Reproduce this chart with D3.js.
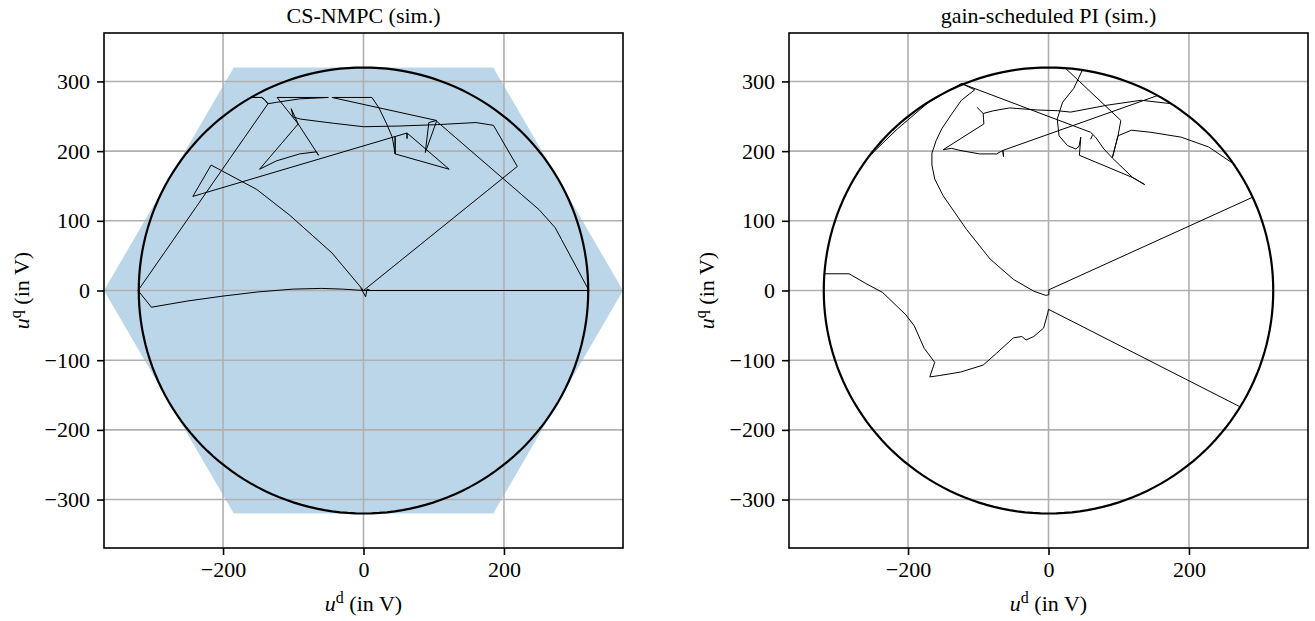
<!DOCTYPE html>
<html>
<head>
<meta charset="utf-8">
<script src="https://cdn.jsdelivr.net/npm/d3@7"></script>
<style>
  body { margin: 0; background: #fff; }
  text { font-family: "Liberation Serif", "DejaVu Serif", serif; fill: #000; }
</style>
</head>
<body>
<script>
// ---- data (u_d, u_q in V) ----
const xTicks = [-200, 0, 200]
const yTicks = [-300, -200, -100, 0, 100, 200, 300]
const voltageRadius = 320          // circle limit
const hexVertex = 369.5            // hexagon vertex = 2/sqrt(3) * radius
const titles = ["CS-NMPC (sim.)", "gain-scheduled PI (sim.)"]

// CS-NMPC trajectory pieces
const nmpcA = [[0,0],[321,0],[273,90],[250,116],[104,243],[88,198],[93,241],[104,244],[-45,277],[12,277],
  [22,262],[33,239],[41,220],[45,196],[45,221],[45,196],[122,174],[62,226],[62,218],[62,226],[-243,135],
  [-217,180],[-152,145],[-105,108],[-45,54],[0,0]]
const nmpcB = [[-50,277],[-91,275],[-124,270],[-136,268],[-141,274],[-145,277],[-160,277],[-145,277],[-141,274],
  [-136,268],[-321,0],[-302,-24],[-250,-15],[-200,-8],[-150,-2],[-100,2],[-60,3],[-30,2],[0,0],[219,178],
  [185,237],[160,241],[105,238],[50,236],[0,235],[-43,240],[-90,246],[-100,249],[-103,261],[-98,250],[-93,239],
  [-148,174],[-124,186],[-91,196],[-67,199],[-64,194],[-93,239],[-123,277],[-50,277]]
const nmpcC = [[-4,4],[3,-9],[5,2],[10,0]]

// gain-scheduled PI trajectory pieces
const piA = [[-320,24],[-284,24],[-260,10],[-236,-3],[-203,-35],[-191,-51],[-177,-83],[-162,-103],[-169,-124],
  [-155,-122],[-125,-117],[-93,-107],[-74,-90],[-50,-68],[-38,-66],[-32,-71],[-21,-66],[-7,-54],[-1,-32],[0,-27],[273,-167]]
const piB = [[291,134],[0.5,1],[0.5,-6],[-4,-7],[-21,-1],[-50,16],[-83,45],[-117,88],[-150,136],[-162,160],
  [-166,180],[-166,197],[-160,215],[-152,232],[-138,253],[-124,273],[-105,288],[-124,297],[60,227],[67,220],
  [79,203],[91,190],[120,162],[137,152]]
const piC = [[-258,190],[-215,232],[-172,269],[-150,282],[-124,297]]
const piD = [[23,320],[103,244],[99,222],[91,191],[99,222],[118,230],[146,227],[189,220],[228,206],[266,180]]
const piE = [[48,316],[36,290],[20,270],[12.5,246],[15,222],[27,208],[39,203],[43.5,207],[46,220],[44,194],[120,162],[137,152]]
const piF = [[-102,263],[-93,254],[-78,258],[-55,262],[-16,259],[12.5,258],[31.5,256],[84,266],[132,273],[175,268]]
const piG = [[-93,254],[-92,239],[-150,202],[-138,204],[-126,201],[-98,196],[-74,196],[-65,201],[-64,192],[-65,201],[156,280]]
const piH = [[62.6,223],[60,217]]

const W = 1315, H = 621
const FS = 22
const svg = d3.select("body").append("svg").attr("width", W).attr("height", H)

function panel(i, left, right, traces, showHex){
  const top = 33, bottom = 548
  const x = d3.scaleLinear().domain([-hexVertex, hexVertex]).range([left, right])
  const y = d3.scaleLinear().domain([-hexVertex, hexVertex]).range([bottom, top])
  const g = svg.append("g")

  g.append("clipPath").attr("id", "clip" + i)
    .append("rect").attr("x", left).attr("y", top).attr("width", right - left).attr("height", bottom - top)
  const plot = g.append("g").attr("clip-path", `url(#clip${i})`)

  if (showHex){
    const hex = d3.range(6).map(k => {
      const a = k * Math.PI / 3
      return [x(hexVertex * Math.cos(a)), y(hexVertex * Math.sin(a))]
    })
    plot.append("polygon").attr("points", hex.map(p => p.join(",")).join(" "))
      .attr("fill", "#1f77b4").attr("fill-opacity", 0.3)
  }

  // grid
  plot.selectAll(".gx").data(xTicks).join("line")
    .attr("x1", d => x(d)).attr("x2", d => x(d)).attr("y1", top).attr("y2", bottom)
    .attr("stroke", "#b0b0b0").attr("stroke-width", 1.6)
  plot.selectAll(".gy").data(yTicks).join("line")
    .attr("y1", d => y(d)).attr("y2", d => y(d)).attr("x1", left).attr("x2", right)
    .attr("stroke", "#b0b0b0").attr("stroke-width", 1.6)

  // voltage circle
  const circ = d3.range(0, 361, 2).map(a => [voltageRadius * Math.cos(a * Math.PI / 180), voltageRadius * Math.sin(a * Math.PI / 180)])
  const line = d3.line().x(d => x(d[0])).y(d => y(d[1]))
  plot.append("path").attr("d", line(circ)).attr("fill", "none").attr("stroke", "#000").attr("stroke-width", 2.2)

  // trajectories
  plot.selectAll(".traj").data(traces).join("path")
    .attr("d", d => line(d)).attr("fill", "none").attr("stroke", "#000")
    .attr("stroke-width", 1).attr("stroke-linejoin", "round")

  // axes
  const ax = g.append("g").attr("transform", `translate(0,${bottom})`)
    .call(d3.axisBottom(x).tickValues(xTicks).tickSize(7).tickPadding(6))
  const ay = g.append("g").attr("transform", `translate(${left},0)`)
    .call(d3.axisLeft(y).tickValues(yTicks).tickSize(7).tickPadding(7))
  for (const a of [ax, ay]){
    a.select(".domain").remove()
    a.selectAll(".tick line").attr("stroke", "#000").attr("stroke-width", 1.6)
    a.selectAll(".tick text").attr("font-size", FS).attr("font-family", "Liberation Serif, serif").attr("fill", "#000")
  }

  g.append("rect").attr("x", left).attr("y", top).attr("width", right - left).attr("height", bottom - top)
    .attr("fill", "none").attr("stroke", "#000").attr("stroke-width", 1.6)

  // title
  g.append("text").attr("x", (left + right) / 2).attr("y", 23).attr("text-anchor", "middle")
    .attr("font-size", FS).text(titles[i])

  // axis labels
  const xl = g.append("text").attr("x", (left + right) / 2).attr("y", 611).attr("text-anchor", "middle").attr("font-size", FS)
  xl.append("tspan").attr("font-style", "italic").text("u")
  xl.append("tspan").attr("font-size", 16).attr("dy", -8).text("d")
  xl.append("tspan").attr("dy", 8).text("\u00a0(in V)")

  const yl = g.append("text").attr("transform", `translate(${left - 75},${(top + bottom) / 2}) rotate(-90)`)
    .attr("text-anchor", "middle").attr("font-size", FS)
  yl.append("tspan").attr("font-style", "italic").text("u")
  yl.append("tspan").attr("font-size", 16).attr("dy", -8).text("q")
  yl.append("tspan").attr("dy", 8).text("\u00a0(in V)")
}

panel(0, 104, 623, [nmpcA, nmpcB, nmpcC], true)
panel(1, 789, 1308, [piA, piB, piC, piD, piE, piF, piG, piH], false)
</script>
</body>
</html>
